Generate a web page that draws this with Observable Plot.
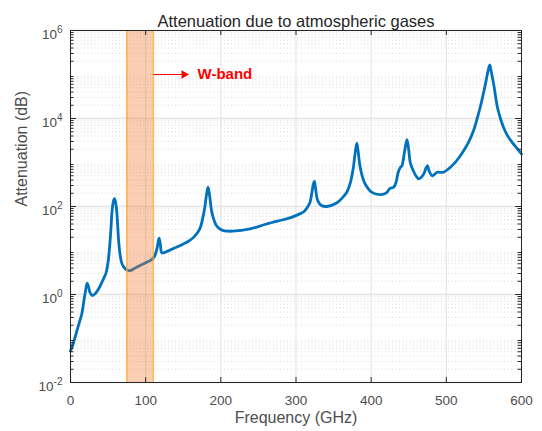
<!DOCTYPE html>
<html><head><meta charset="utf-8">
<script src="https://cdn.jsdelivr.net/npm/d3@7"></script>
<script src="https://cdn.jsdelivr.net/npm/@observablehq/plot@0.6"></script>
<style>
body{margin:0;background:#fff;}
#chart svg{display:block;font-family:"Liberation Sans",Arial,sans-serif;}
</style></head><body><div id="chart"></div>
<script>
const title = "Attenuation due to atmospheric gases";
const xLabel = "Frequency (GHz)";
const yLabel = "Attenuation (dB)";
const bandLabel = "W-band";

// Frequency (GHz) and attenuation (dB)
const freq = [0,4,8,12,15,18,20,22,24,26,29,33,39,44,47.5,50,52,54,55,57,58.5,60,61,62.5,64,66,68.5,72,75,79.5,86,93,100,108,112,115,117.8,119.5,121,123,130,141,150,158.7,165,172,176,178.7,181,183,185,187.6,190,194,200,205,216,239,261,283,292,305,310,315,318.7,321,323,324.4,326,329,334,341,354,362,367.6,372,376,379,381,383,385,388,392,401,412,418,421,425,430,433,436,439,441,444,447.6,450,452,456,461,463,466,470,473,475,477,481,485,488,496,503,510,517,523,530,536,541,545,549,552,555,557.8,560,563,568,572,576,581,587.6,594,600];
const atten = [0.052,0.08,0.14,0.24,0.36,0.75,1.2,1.8,1.5,1.1,0.95,1.05,1.5,2.3,3.2,5.5,12,35,68,130,150,125,96,45,17,8,5,4,3.6,3.5,4,4.6,5.3,6.2,7.5,11,19,14,9.1,8.8,9.8,11.9,14,17,21,31,55,96,190,275,180,81,55,37,30,28,27.5,31,40,50,55,68,75,95,125,200,320,370,260,134,105,100,120,160,210,330,710,1800,2760,1600,850,500,325,210,186,195,210,258,275,350,600,780,850,1600,3300,1900,1000,650,460,425,450,550,750,850,650,500,550,600,600,720,930,1300,1850,3000,5200,10000,17800,35000,60000,110000,165000,110000,60000,17800,10000,6300,4200,2870,2100,1560];

const xTicks = [0,100,200,300,400,500,600];
const yTicks = [1e-2,1e0,1e2,1e4,1e6];
const band = [75,110];          // W-band edges (GHz)
const arrowX = [110,151];       // arrow from band edge
const arrowLevel = 1e5;
const labelX = 169;

const yMinor = d3.range(-2,6).flatMap(k => d3.range(2,10).map(m => m*10**k));
const data = freq.map((f,i)=>({f, a: atten[i]}));

const width = 542, height = 431;
const mL = 70, mR = 21, mT = 30, mB = 49;
const W = width - mL - mR, H = height - mT - mB;
const axisColor = "#262626", textColor = "#4d4d4d";

const chart = Plot.plot({
  width, height,
  marginLeft: mL, marginRight: mR, marginTop: mT, marginBottom: mB,
  x: {domain: [0,600]},
  y: {type: "log", domain: [1e-2,1e6]},
  style: {fontFamily: '"Liberation Sans", Arial, sans-serif', background: "#fff"},
  marks: [
    Plot.ruleY(yMinor, {stroke: "#c4c4c4", strokeDasharray: "1,2.5", strokeOpacity: 0.6}),
    Plot.ruleX(xTicks, {stroke: "#e2e2e2"}),
    Plot.ruleY(yTicks, {stroke: "#e4e4e4", strokeWidth: 1.5}),
    Plot.line(data, {x: "f", y: "a", stroke: "#0072BD", strokeWidth: 2.8, curve: "catmull-rom"}),
    Plot.rect([{x1: band[0], x2: band[1]}], {x1: "x1", x2: "x2", y1: yTicks[0], y2: yTicks[yTicks.length-1], fill: "#f0782a", fillOpacity: 0.36}),
    Plot.ruleX(band, {stroke: "#ffa630", strokeWidth: 1.2}),
    Plot.link([{x1: arrowX[0], x2: arrowX[1]}], {x1: "x1", x2: "x2", y1: arrowLevel, y2: arrowLevel, stroke: "red", strokeWidth: 1}),
    Plot.dot([arrowX[1]], {x: d => d, y: arrowLevel, symbol: "triangle", rotate: 90, r: 3.2, fill: "red"}),
    Plot.text([bandLabel], {x: labelX, y: arrowLevel, textAnchor: "start", fill: "red", fontWeight: "bold", fontSize: 15}),
    Plot.frame({stroke: axisColor}),
    // inward ticks
    Plot.ruleY(yTicks, {stroke: axisColor, insetRight: W - 6}),
    Plot.ruleY(yTicks, {stroke: axisColor, insetLeft: W - 6}),
    Plot.ruleY(yMinor, {stroke: axisColor, insetRight: W - 3.5}),
    Plot.ruleY(yMinor, {stroke: axisColor, insetLeft: W - 3.5}),
    Plot.ruleX(xTicks, {stroke: axisColor, insetTop: H - 5}),
    Plot.ruleX(xTicks, {stroke: axisColor, insetBottom: H - 5}),
    Plot.axisX(xTicks, {tickSize: 0, tickPadding: 13, fontSize: 13.5, color: textColor, label: null}),
    Plot.axisY(yTicks, {tickSize: 0, tickPadding: 8, fontSize: 13.5, color: textColor, label: null, dy: 4,
      tickFormat: d => "10^" + Math.round(Math.log10(d))}),
    Plot.text([title], {frameAnchor: "top", dy: -15, fontSize: 16.5, fill: "#262626"}),
    Plot.text([xLabel], {frameAnchor: "bottom", dy: 40, fontSize: 16, fill: textColor}),
    Plot.text([yLabel], {frameAnchor: "left", dx: -49, rotate: -90, fontSize: 16, fill: textColor})
  ]
});

// render exponents as superscripts
d3.select(chart).selectAll('g[aria-label="y-axis tick label"] text').each(function() {
  const s = this.textContent;
  const [base, exp] = s.split("^");
  const t = d3.select(this);
  t.text(base);
  t.append("tspan").attr("dy", "-0.55em").attr("font-size", "10px").text(exp);
});

document.getElementById("chart").appendChild(chart);
</script></body></html>
